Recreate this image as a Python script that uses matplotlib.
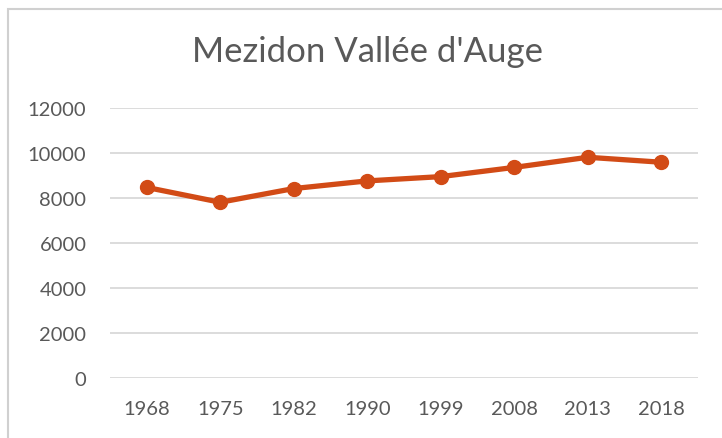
import matplotlib.pyplot as plt
from matplotlib.patches import Rectangle

years = ['1968', '1975', '1982', '1990', '1999', '2008', '2013', '2018']
population = [8470, 7810, 8420, 8760, 8950, 9360, 9810, 9590]
y_ticks = [0, 2000, 4000, 6000, 8000, 10000, 12000]

plt.rcParams['font.family'] = ['Lato', 'DejaVu Sans']
text_gray = '#595959'
line_col = '#D24B16'

fig = plt.figure(figsize=(7.22, 4.39), dpi=100)
ax = fig.add_axes([110/722, 1 - 379/439, 588/722, 270/439])

x = range(len(years))
ax.plot(x, population, color=line_col, lw=3.8, marker='o', markersize=10,
        solid_capstyle='round', zorder=3)

ax.set_xlim(-0.5, len(years) - 0.5)
ax.set_ylim(0, 12000)
ax.set_yticks(y_ticks)
ax.set_xticks(list(x))
ax.set_xticklabels(years)
ax.grid(axis='y', color='#D9D9D9', lw=1.3)
ax.set_axisbelow(True)
for s in ax.spines.values():
    s.set_visible(False)
ax.tick_params(length=0, labelsize=14.5, colors=text_gray, pad=16)
ax.tick_params(axis='y', pad=17)

fig.text(368/722, 1 - 52/439, "Mezidon Vallée d'Auge", ha='center', va='center',
         fontsize=25, color=text_gray)

# chart frame (cropped at right and bottom)
fig.patches.append(Rectangle((8/722, -0.1), 1.1, 1 - 10/439 + 0.1,
                             transform=fig.transFigure, fill=False,
                             edgecolor='#D0D0D0', lw=1.5))

fig.savefig('out.png', dpi=100)
